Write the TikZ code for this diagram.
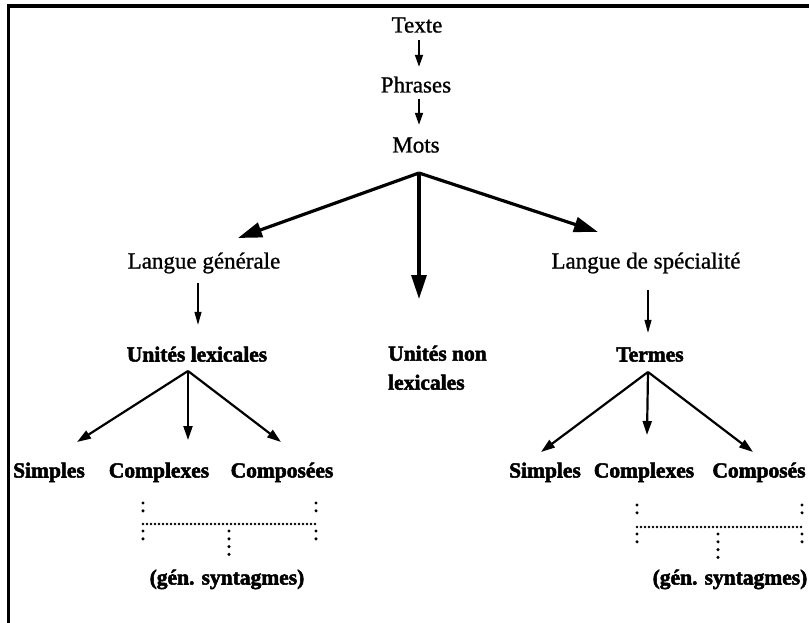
\documentclass[tikz,border=0pt]{standalone}
\usepackage{fontspec}
\setmainfont{Liberation Serif}[UprightFeatures={FakeBold=1}, BoldFeatures={FakeBold=2.4}]
\usetikzlibrary{arrows.meta}

\tikzset{
  lbl/.style={font=\fontsize{23}{26}\selectfont, inner sep=0pt, text height=15pt, text depth=0pt},
  blbl/.style={font=\fontsize{21.5}{29}\selectfont\bfseries, inner sep=0pt, text height=15pt, text depth=0pt},
  bigarrow/.style={line width=3.2pt, -{Triangle[length=24pt,width=15pt]}},
  midarrow/.style={line width=2.2pt, -{Triangle[length=14pt,width=9pt]}},
  smallarrow/.style={line width=1.8pt, -{Triangle[length=12pt,width=8pt]}},
  thinarrow/.style={line width=1.2pt, -{Triangle[length=13pt,width=7pt]}},
  dotsv/.style={line width=3.4pt, line cap=round, dash pattern=on 0pt off 7.8pt},
  dotsh/.style={line width=2.9pt, line cap=round, dash pattern=on 0pt off 4pt},
  frameline/.style={line width=3.5pt}
}

\begin{document}
\begin{tikzpicture}[x=1pt,y=-1pt]
\useasboundingbox (0,0) rectangle (809,623);

% frame (top and left edges)
\draw[frameline] (8.5,623) -- (8.5,6) -- (809,6);

% upper chain
\node[lbl] (texte)   at (417,25)  {Texte};
\node[lbl] (phrases) at (416,85)  {Phrases};
\node[lbl] (mots)    at (416,145) {Mots};

\draw[smallarrow, shorten <=7.5pt, shorten >=10.5pt] (texte.south -| 419,0) -- (phrases.north -| 419,0);
\draw[smallarrow, shorten <=6pt, shorten >=12.5pt] (phrases.south -| 419,0) -- (mots.north -| 419,0);

% second level
\node[lbl] (lg) at (204,261) {Langue générale};
\node[lbl] (ls) at (646,261) {Langue de spécialité};
\node[blbl, align=left, anchor=north west, text height=] (nonlex) at (388,345.5) {Unités non\\lexicales};

\coordinate (motsfork) at (419,173);
\coordinate (tiplg) at (238,238);
\coordinate (tipnl) at (419,299);
\coordinate (tipls) at (598,232);
\draw[bigarrow] (motsfork) -- (tiplg);
\draw[bigarrow] (motsfork) -- (tipnl);
\draw[bigarrow] (motsfork) -- (tipls);

% third level
\node[blbl] (ul)     at (197,354) {Unités lexicales};
\node[blbl] (termes) at (650,354) {Termes};

\draw[thinarrow, shorten <=14.5pt, shorten >=21.5pt] (lg.south -| 198,0) -- (ul.north -| 198,0);
\draw[thinarrow, shorten <=21.5pt, shorten >=13.5pt] (ls.south -| 648,0) -- (termes.north -| 648,0);

% fourth level, general language
\node[blbl] (simples1)   at (49,470)  {Simples};
\node[blbl] (complexes1) at (159,470) {Complexes};
\node[blbl] (composees1) at (282,470) {Composées};

\coordinate (lexfork) at (188,371);
\draw[midarrow] (lexfork) -- (77,442);
\draw[midarrow] (lexfork) -- (188,440);
\draw[midarrow] (lexfork) -- (281,442);

% fourth level, specialised language
\node[blbl] (simples2)   at (545,470) {Simples};
\node[blbl] (complexes2) at (644,470) {Complexes};
\node[blbl] (composes2)  at (759,470) {Composés};

\coordinate (termfork) at (648,372);
\draw[midarrow] (termfork) -- (541,452);
\draw[midarrow] (termfork) -- (647,435);
\draw[midarrow] (termfork) -- (753,452);

% dotted brackets towards the phrase generation
% (yshift is measured upwards, the picture's y axis points down)
\node[blbl] (gen1) at (227,577) {(gén. syntagmes)};
\node[blbl] (gen2) at (730,577) {(gén. syntagmes)};

\coordinate (ba) at (143,524);
\coordinate (bb) at (316,524);
\coordinate (bm) at (229,524);
\draw[dotsh] (ba) -- (bb);
\draw[dotsv] ([yshift=21pt]ba) -- ([yshift=13pt]ba);
\draw[dotsv] ([yshift=-7pt]ba) -- ([yshift=-15pt]ba);
\draw[dotsv] ([yshift=21pt]bb) -- ([yshift=13pt]bb);
\draw[dotsv] ([yshift=-7pt]bb) -- ([yshift=-15pt]bb);
\draw[dotsv] ([yshift=-7pt]bm) -- ([yshift=-31pt]bm);

\coordinate (ca) at (637,527);
\coordinate (cb) at (802,527);
\coordinate (cm) at (718,527);
\draw[dotsh] (ca) -- (cb);
\draw[dotsv] ([yshift=22pt]ca) -- ([yshift=14pt]ca);
\draw[dotsv] ([yshift=-7pt]ca) -- ([yshift=-15pt]ca);
\draw[dotsv] ([yshift=22pt]cb) -- ([yshift=14pt]cb);
\draw[dotsv] ([yshift=-7pt]cb) -- ([yshift=-15pt]cb);
\draw[dotsv] ([yshift=-7pt]cm) -- ([yshift=-31pt]cm);
\end{tikzpicture}
\end{document}
